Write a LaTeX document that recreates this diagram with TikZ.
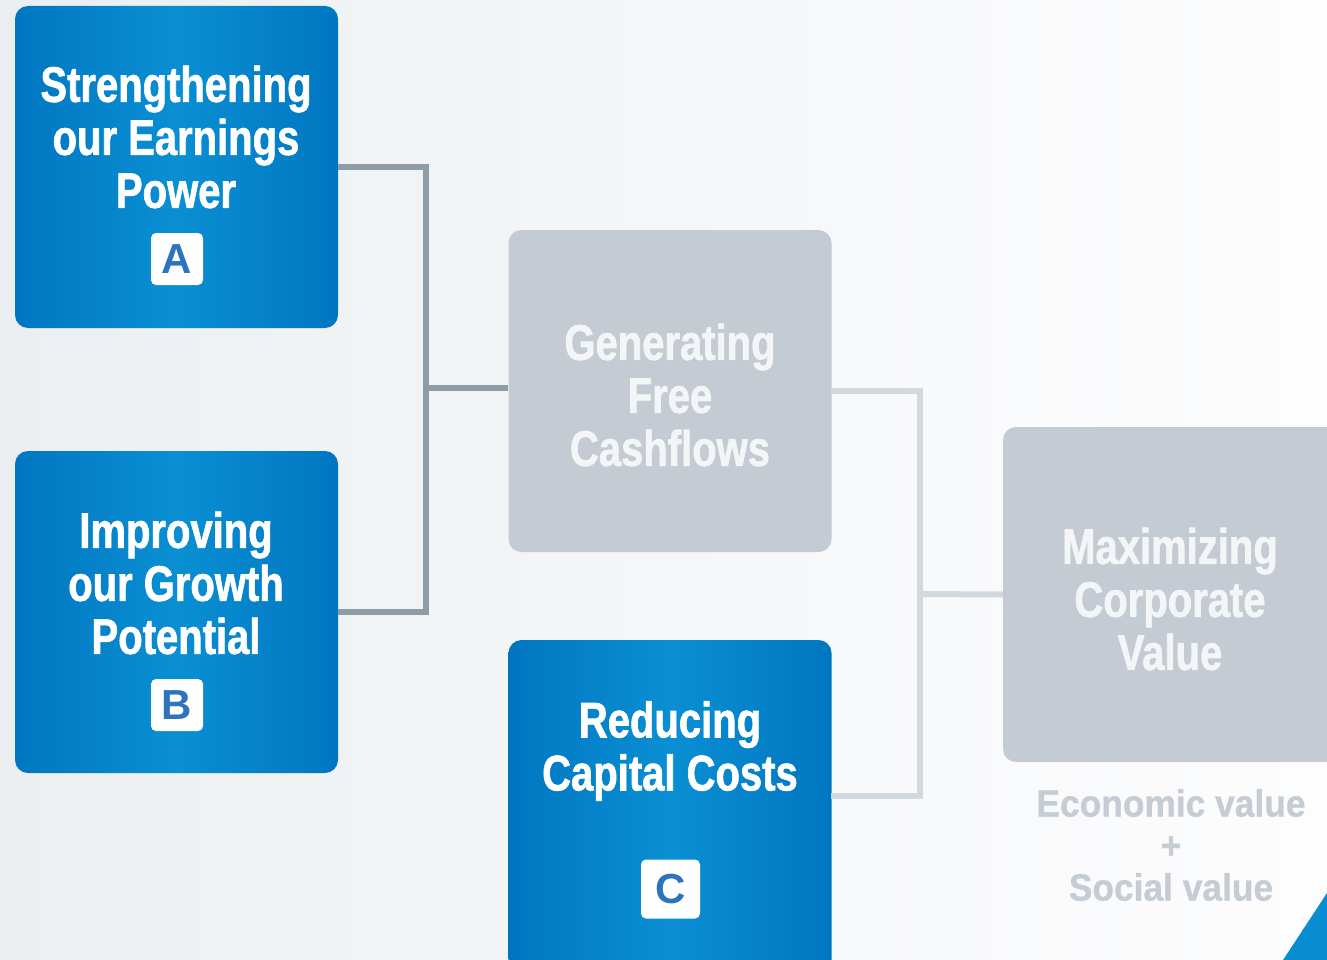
\documentclass[tikz,border=0pt]{standalone}
\usepackage{fontspec}
\newfontfamily\headfont[FakeStretch=0.8, BoldFeatures={FakeBold=1.3}]{Liberation Sans}
\newfontfamily\notefont[FakeStretch=0.93, BoldFeatures={FakeBold=0.8}]{Liberation Sans}
\newfontfamily\badgefont{Liberation Sans}

\definecolor{bgleft}{HTML}{ECEFF1}
\definecolor{bgright}{HTML}{FDFDFE}
\definecolor{boxdark}{HTML}{0076C1}
\definecolor{boxlight}{HTML}{0A8FD3}
\definecolor{greybox}{HTML}{C4CBD2}
\definecolor{greytext}{HTML}{F3F5F7}
\definecolor{linedark}{HTML}{8D9DA7}
\definecolor{linelight}{HTML}{D2D9DE}
\definecolor{badgeblue}{HTML}{2E73BD}
\definecolor{notegrey}{HTML}{C5CCD3}
\definecolor{cornerblue}{HTML}{0A8CD2}

\tikzset{
  bluebox/.style={rounded corners=13pt, inner sep=0pt, minimum width=323pt,
    left color=boxdark, right color=boxdark, middle color=boxlight},
  greyboxstyle/.style={rounded corners=13pt, inner sep=0pt, minimum width=323pt,
    fill=greybox},
  title/.style={inner sep=0pt, align=center, text=white,
    font=\headfont\bfseries\fontsize{50}{53}\selectfont},
  badge/.style={fill=white, rounded corners=5pt, minimum size=52pt, inner sep=0pt,
    text=badgeblue, font=\badgefont\bfseries\fontsize{42}{42}\selectfont},
  darkline/.style={draw=linedark, line width=6pt},
  lightline/.style={draw=linelight, line width=6pt}
}

\begin{document}
\begin{tikzpicture}[x=1pt,y=1pt,yscale=-1,xscale=1]
\useasboundingbox (0,0) rectangle (1327,960);
\clip (0,0) rectangle (1327,960);

%Shape: Background
\shade[left color=bgleft, right color=bgright] (0,0) rectangle (1327,960);

%Shape: Boxes
\node (earn) [bluebox, minimum height=322pt] at (176.5,167) {};
\node (growth) [bluebox, minimum height=322pt] at (176.5,612) {};
\node (fcf) [greyboxstyle, minimum height=322pt] at (670,391) {};
\node (capcost) [bluebox, minimum height=340pt] at (670,810) {};
\node (value) [greyboxstyle, minimum width=347pt, minimum height=335pt] at (1176.5,594.5) {};

%Shape: Connectors
\coordinate (j1) at (426,388);
\draw[darkline] (earn.east) -- (earn.east -| j1) -- (growth.east -| j1) -- (growth.east);
\draw[darkline] (j1) -- (fcf.west |- j1);

\coordinate (j2) at (920,594);
\coordinate (ccin) at (831,796);
\draw[lightline] (fcf.east) -- (fcf.east -| j2) -- (ccin -| j2) -- (ccin);
\draw[lightline] (j2) -- (value.west);

% Text Node
\node (earn-t) [title] at (176,137) {Strengthening\\our Earnings\\Power};
% Text Node
\node (growth-t) [title] at (176,583) {Improving\\our Growth\\Potential};
% Text Node
\node (fcf-t) [title, text=greytext] at (670,395) {Generating\\Free\\Cashflows};
% Text Node
\node (capcost-t) [title] at (670,751) {Reducing\\Capital Costs};
% Text Node
\node (value-t) [title, text=greytext] at (1170,599) {Maximizing\\Corporate\\Value};

% Badges
\node (badge-a) [badge] at (177,259) {A};
\node (badge-b) [badge] at (177,705) {B};
\node (badge-c) [badge, minimum size=59pt] at (670.5,889) {C};

% Text Node
\node (value-note) [inner sep=0pt, align=center, text=notegrey,
  font=\notefont\bfseries\fontsize{38}{42}\selectfont] at (1171,845)
  {Economic value\\+\\Social value};

%Shape: Triangle
\fill[cornerblue] (1283,960) -- (1327,893) -- (1327,960) -- cycle;

\end{tikzpicture}
\end{document}
